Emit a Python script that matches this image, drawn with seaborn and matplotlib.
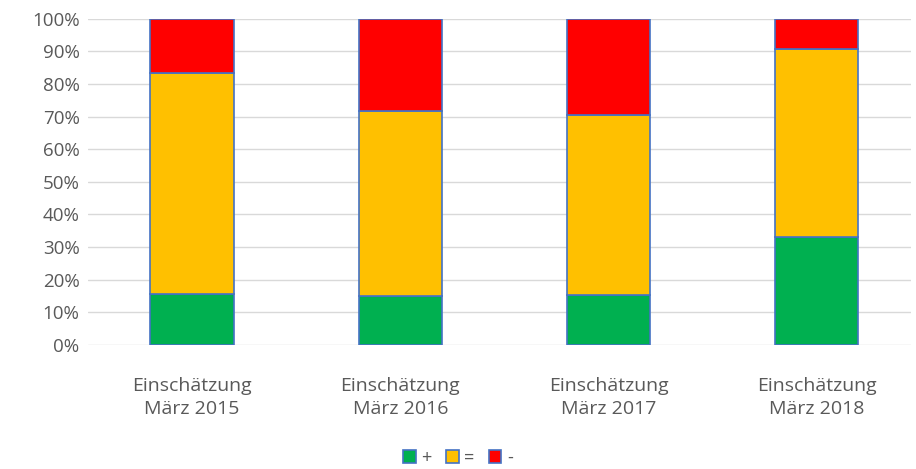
import matplotlib
matplotlib.use("Agg")
import matplotlib.pyplot as plt
import seaborn as sns
import numpy as np
from matplotlib.patches import Patch

# Data
categories = ["Einschätzung\nMärz 2015", "Einschätzung\nMärz 2016",
              "Einschätzung\nMärz 2017", "Einschätzung\nMärz 2018"]
plus = [15.6, 15.0, 15.3, 33.1]
equal = [67.8, 56.8, 55.3, 57.7]
minus = [16.6, 28.2, 29.4, 9.2]
series_names = ["+", "=", "-"]
colors = ["#00B050", "#FFC000", "#FF0000"]
edge = "#4472C4"

sns.set_style("white")
plt.rcParams['font.family'] = ['Open Sans', 'DejaVu Sans']

fig, ax = plt.subplots(figsize=(9.16, 4.69), dpi=100)
fig.subplots_adjust(left=0.096, right=0.994, top=0.96, bottom=0.265)

bottom = np.zeros(len(categories))
for vals, col in zip([plus, equal, minus], colors):
    sns.barplot(x=categories, y=vals, bottom=bottom, color=col, width=0.4,
                edgecolor=edge, linewidth=1.2, ax=ax, saturation=1)
    bottom = bottom + np.array(vals)

ax.set_ylim(0, 100)
ax.set_yticks(range(0, 101, 10))
ax.set_yticklabels([f"{v}%" for v in range(0, 101, 10)])
ax.yaxis.grid(True, color="#D9D9D9", linewidth=1)
ax.set_axisbelow(True)
for s in ax.spines.values():
    s.set_visible(False)
ax.tick_params(axis="both", length=0, labelsize=13.5, colors="#595959", pad=6)
ax.tick_params(axis="x", labelsize=14, pad=23)
for lbl in ax.get_xticklabels():
    lbl.set_linespacing(1.4)
ax.set_xlim(-0.5, 3.45)

handles = [Patch(facecolor=c, edgecolor=edge, linewidth=1.2) for c in colors]
leg = fig.legend(handles, series_names, loc="lower center", ncol=3,
                 bbox_to_anchor=(0.5, -0.03), frameon=False, fontsize=13,
                 handlelength=0.7, handleheight=0.7, handletextpad=0.3,
                 columnspacing=0.8)
for t in leg.get_texts():
    t.set_color("#595959")

fig.savefig("out.png", dpi=100)
